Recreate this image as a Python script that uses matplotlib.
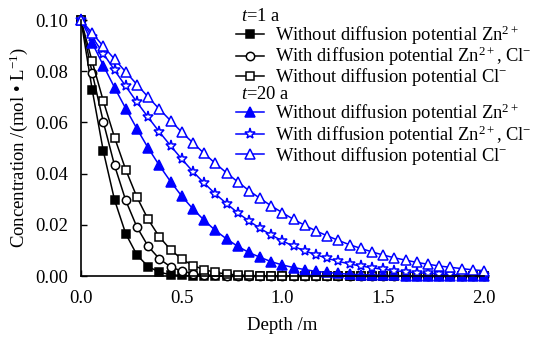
import matplotlib
matplotlib.use("Agg")
import matplotlib.pyplot as plt
import numpy as np
from matplotlib.lines import Line2D

plt.rcParams['font.family'] = ['Liberation Serif', 'DejaVu Serif']
plt.rcParams['mathtext.fontset'] = 'custom'
plt.rcParams['mathtext.rm'] = 'Liberation Serif'
plt.rcParams['mathtext.it'] = 'Liberation Serif:italic'
plt.rcParams['font.size'] = 13.5

# depth (m), 37 points 0..2
depth = np.linspace(0, 2.0, 37)

# t = 1 a
zn_no_1 = [0.1000, 0.0728, 0.0487, 0.0297, 0.0165, 0.0082, 0.0037, 0.0015, 0.0005, 0.0002,
           0.0001, 0, 0, 0, 0, 0, 0, 0, 0, 0, 0, 0, 0, 0, 0, 0, 0, 0, 0, 0, 0, 0, 0, 0, 0, 0, 0]
with_1 = [0.1000, 0.0794, 0.0601, 0.0432, 0.0295, 0.0191, 0.0116, 0.0067, 0.0036, 0.0019,
          0.0009, 0.0004, 0.0002, 0.0001, 0, 0, 0, 0, 0, 0, 0, 0, 0, 0, 0, 0, 0, 0, 0, 0, 0, 0, 0, 0, 0, 0, 0]
cl_no_1 = [0.1000, 0.0838, 0.0683, 0.0541, 0.0415, 0.0308, 0.0221, 0.0153, 0.0103, 0.0066,
           0.0041, 0.0025, 0.0014, 0.0008, 0.0004, 0.0002, 0.0001, 0, 0, 0, 0, 0, 0, 0, 0, 0, 0, 0, 0, 0, 0, 0, 0, 0, 0, 0, 0]

# t = 20 a
zn_no_20 = [0.1000, 0.0911, 0.0822, 0.0736, 0.0654, 0.0575, 0.0500, 0.0432, 0.0369, 0.0312,
            0.0262, 0.0218, 0.0178, 0.0145, 0.0116, 0.0092, 0.0073, 0.0056, 0.0043, 0.0033,
            0.0025, 0.0018, 0.0014, 0.0010, 0.0007, 0.0005, 0.0004, 0.0002, 0.0002, 0.0001,
            0.0001, 0.0001, 0, 0, 0, 0, 0]
with_20 = [0.1000, 0.0934, 0.0869, 0.0804, 0.0741, 0.0679, 0.0620, 0.0563, 0.0509, 0.0457,
           0.0408, 0.0363, 0.0321, 0.0283, 0.0247, 0.0215, 0.0186, 0.0160, 0.0137, 0.0116,
           0.0098, 0.0083, 0.0069, 0.0057, 0.0047, 0.0039, 0.0032, 0.0026, 0.0021, 0.0016,
           0.0013, 0.0010, 0.0008, 0.0006, 0.0005, 0.0004, 0.0003]
cl_no_20 = [0.1000, 0.0949, 0.0897, 0.0847, 0.0797, 0.0748, 0.0699, 0.0652, 0.0607, 0.0562,
            0.0520, 0.0479, 0.0440, 0.0403, 0.0368, 0.0334, 0.0303, 0.0274, 0.0247, 0.0221,
            0.0198, 0.0176, 0.0157, 0.0139, 0.0122, 0.0108, 0.0094, 0.0082, 0.0071, 0.0062,
            0.0053, 0.0046, 0.0039, 0.0034, 0.0029, 0.0024, 0.0021]

labels = ['Without diffusion potential Zn$^{2+}$',
          'With diffusion potential Zn$^{2+}$, Cl$^{-}$',
          'Without diffusion potential Cl$^{-}$']

fig = plt.figure(figsize=(5.42, 3.38), dpi=100)
ax = fig.add_axes([0.1494, 0.1834, 0.7436, 0.7574])

blue = '#0000ff'
lw = 1.1
series = [
    (zn_no_1, 'k', 's', 'k', 5.5),
    (with_1, 'k', 'o', 'white', 6),
    (cl_no_1, 'k', 's', 'white', 5.5),
    (zn_no_20, blue, '^', blue, 7),
    (with_20, blue, '*', 'white', 8),
    (cl_no_20, blue, '^', 'white', 7),
]
handles = []
for y, c, m, fc, ms in series:
    ln, = ax.plot(depth, y, color=c, marker=m, mfc=fc, mec=c, ms=ms, lw=lw, mew=1.1,
                  clip_on=False)
    handles.append(ln)

ax.set_xlim(0, 2.0)
ax.set_ylim(0, 0.10)
ax.set_xticks([0, 0.5, 1.0, 1.5, 2.0])
ax.set_xticklabels(['0.0', '0.5', '1.0', '1.5', '2.0'])
ax.set_yticks([0, 0.02, 0.04, 0.06, 0.08, 0.10])
ax.set_yticklabels(['0.00', '0.02', '0.04', '0.06', '0.08', '0.10'])
ax.tick_params(direction='in', length=4, width=1, labelsize=13.5)
ax.tick_params(axis='x', pad=10)
ax.tick_params(axis='y', pad=9)
for s in ['top', 'right']:
    ax.spines[s].set_visible(False)
for s in ['left', 'bottom']:
    ax.spines[s].set_linewidth(1.2)
ax.set_xlabel('Depth /m', fontsize=13.5, labelpad=7)
ax.set_ylabel('Concentration /(mol \u2022 L$^{-1}$)', fontsize=13.5, labelpad=4)

# legend: header rows get a blank handle, header text is placed afterwards
blank = Line2D([], [], color='none')
leg_handles = [blank] + handles[:3] + [blank] + handles[3:]
leg_labels = [' '] + labels + [' '] + labels
leg = fig.legend(leg_handles, leg_labels, loc='upper left',
                 bbox_to_anchor=(236 / 542, 1 - 8 / 338), frameon=False,
                 handlelength=1.5, handletextpad=0.6, labelspacing=-0.1,
                 borderpad=0, borderaxespad=0, fontsize=13.3)

fig.canvas.draw()
texts = leg.get_texts()
for i, head in [(0, '$t$=1 a'), (4, '$t$=20 a')]:
    bb = texts[i].get_window_extent()
    ref = texts[1].get_window_extent()
    fig.text(ref.x0 - 34, (bb.y0 + bb.y1) / 2, head, transform=None,
             fontsize=13.3, va='center', ha='left')

fig.savefig('out.png', dpi=100)
